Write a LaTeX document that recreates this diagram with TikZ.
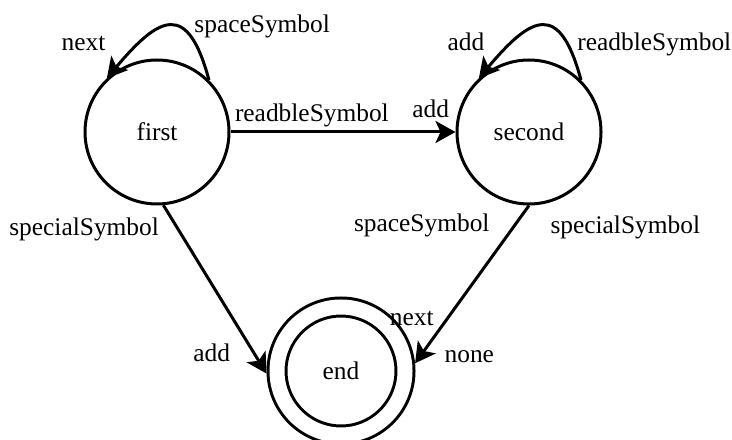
\documentclass[tikz,border=0pt]{standalone}
\usepackage{fontspec}
\setmainfont{Liberation Serif}
\usetikzlibrary{automata}
\usetikzlibrary{arrows.meta}
\tikzset{x=0.5pt, y=0.5pt,
every state/.style={ % Sets the properties for each state
line width=1.5pt,
minimum size=72pt,
inner sep=0pt},
double distance=7.5pt, % Gap inside the ring of the end state
every edge/.style={ % Sets the properties for each transition
draw,
-{Stealth[length=10pt, width=11pt, inset=2.5pt]},
line width=1.5pt},
lbl/.style={inner sep=0pt}}

\begin{document}
\begin{tikzpicture}[font=\fontsize{12.7pt}{15pt}\selectfont]
	\useasboundingbox (0,0) rectangle (732,439);
	\node[state] (first) at (157,307) {first};
	\node[state] (second) at (529,307) {second};
	\node[state, accepting, minimum size=64pt, outer sep=5.25pt] (end) at (341,68) {end};
	\draw (first.45) edge[out=105, in=50, looseness=2.05] node[lbl, pos=0, anchor=base west, xshift=-8pt, yshift=24pt]{spaceSymbol} node[lbl, pos=1, anchor=base east, yshift=14pt]{next} (first.133);
	\draw (first) edge node[lbl, pos=0, anchor=base west, xshift=1.5pt, yshift=5pt]{readbleSymbol} node[lbl, pos=1, anchor=base east, xshift=-2.5pt, yshift=7pt]{add} (second);
	\draw (second.45) edge[out=105, in=50, looseness=2.05] node[lbl, pos=0, anchor=base west, xshift=-2.5pt, yshift=15pt]{readbleSymbol} node[lbl, pos=1, anchor=base east, xshift=3.5pt, yshift=14pt]{add} (second.133);
	\draw (first.275) edge node[lbl, pos=0, anchor=base east, xshift=-1.5pt, yshift=-15pt]{specialSymbol} node[lbl, pos=1, anchor=base east, xshift=-17.5pt, yshift=6pt]{add} (end.182);
	\draw (second.270) edge node[lbl, pos=0, anchor=base east, xshift=-19pt, yshift=-13pt]{spaceSymbol} node[lbl, pos=0, anchor=base west, xshift=10pt, yshift=-14pt]{specialSymbol} node[lbl, pos=1, anchor=base east, xshift=10pt, yshift=19pt]{next} node[lbl, pos=1, anchor=base west, xshift=14pt, yshift=0.5pt]{none} (end.6);
\end{tikzpicture}
\end{document}
